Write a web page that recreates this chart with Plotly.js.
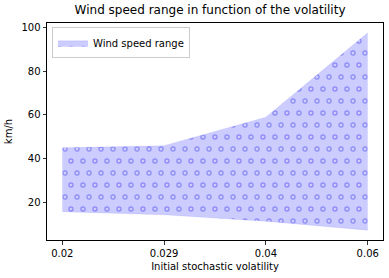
<!DOCTYPE html>
<html>
<head>
<meta charset="utf-8">
<script src="https://cdn.plot.ly/plotly-3.0.1.min.js"></script>
<style>html,body{margin:0;padding:0;background:#fff;}#chart{width:389px;height:278px;}</style>
</head>
<body>
<div id="chart"></div>
<script>
const volatility = ['0.02', '0.029', '0.04', '0.06'];
const windLow = [15.9, 14.5, 11.5, 7.5];
const windHigh = [45.0, 46.0, 59.0, 97.4];

const fillColor = 'rgba(0,0,255,0.2)';

const traces = [
  {
    x: volatility, y: windLow, type: 'scatter', mode: 'lines',
    line: {color: 'rgba(0,0,255,0.15)', width: 0.5},
    showlegend: false, hoverinfo: 'skip'
  },
  {
    x: volatility, y: windHigh, type: 'scatter', mode: 'lines',
    name: 'Wind speed range',
    line: {color: 'rgba(0,0,255,0.15)', width: 0.5},
    fill: 'tonexty', fillcolor: fillColor,
    fillpattern: {shape: '.', fgcolor: 'rgba(90,90,240,0.35)', bgcolor: fillColor, size: 12, solidity: 0.12, fillmode: 'overlay'}
  }
];

const axisCommon = {
  showline: true, linecolor: '#000', linewidth: 1, mirror: true,
  ticks: 'outside', ticklen: 3.5, tickwidth: 0.8, tickcolor: '#000',
  showgrid: false, zeroline: false,
  tickfont: {family: 'DejaVu Sans', size: 10, color: '#000'}
};

const layout = {
  width: 389, height: 278,
  margin: {l: 47, r: 6, t: 23, b: 38},
  paper_bgcolor: '#fff', plot_bgcolor: '#fff',
  font: {family: 'DejaVu Sans', color: '#000'},
  title: {text: 'Wind speed range in function of the volatility', font: {family: 'DejaVu Sans', size: 12, color: '#000'}, x: 0.54, xanchor: 'center', y: 0.965, yanchor: 'middle'},
  xaxis: Object.assign({}, axisCommon, {
    type: 'category', range: [-0.15, 3.15],
    title: {text: 'Initial stochastic volatility', font: {family: 'DejaVu Sans', size: 10, color: '#000'}, standoff: 5}
  }),
  yaxis: Object.assign({}, axisCommon, {
    range: [3.0, 101.9], tickvals: [20, 40, 60, 80, 100],
    title: {text: 'km/h', font: {family: 'DejaVu Sans', size: 10, color: '#000'}, standoff: 6}
  }),
  showlegend: true,
  legend: {
    x: 0.015, y: 0.98, xanchor: 'left', yanchor: 'top',
    bgcolor: 'rgba(255,255,255,0.8)', bordercolor: '#cccccc', borderwidth: 1,
    font: {family: 'DejaVu Sans', size: 10, color: '#000'},
    itemwidth: 30, tracegroupgap: 0
  }
};

const SVGNS = 'http://www.w3.org/2000/svg';
function ringPattern() {
  document.querySelectorAll('#chart defs pattern').forEach(function (p) {
    p.setAttribute('width', 12);
    p.setAttribute('height', 24);
    while (p.firstChild) p.removeChild(p.firstChild);
    const bg = document.createElementNS(SVGNS, 'rect');
    bg.setAttribute('width', 12); bg.setAttribute('height', 24);
    bg.setAttribute('fill', fillColor);
    p.appendChild(bg);
    [[6, 6], [0, 18], [12, 18]].forEach(function (c) {
      const ci = document.createElementNS(SVGNS, 'circle');
      ci.setAttribute('cx', c[0]); ci.setAttribute('cy', c[1]); ci.setAttribute('r', 2.1);
      ci.setAttribute('fill', 'none');
      ci.setAttribute('stroke', 'rgba(70,70,235,0.5)');
      ci.setAttribute('stroke-width', 1.2);
      p.appendChild(ci);
    });
  });
}

Plotly.newPlot('chart', traces, layout, {displayModeBar: false, staticPlot: true}).then(ringPattern);
</script>
</body>
</html>
